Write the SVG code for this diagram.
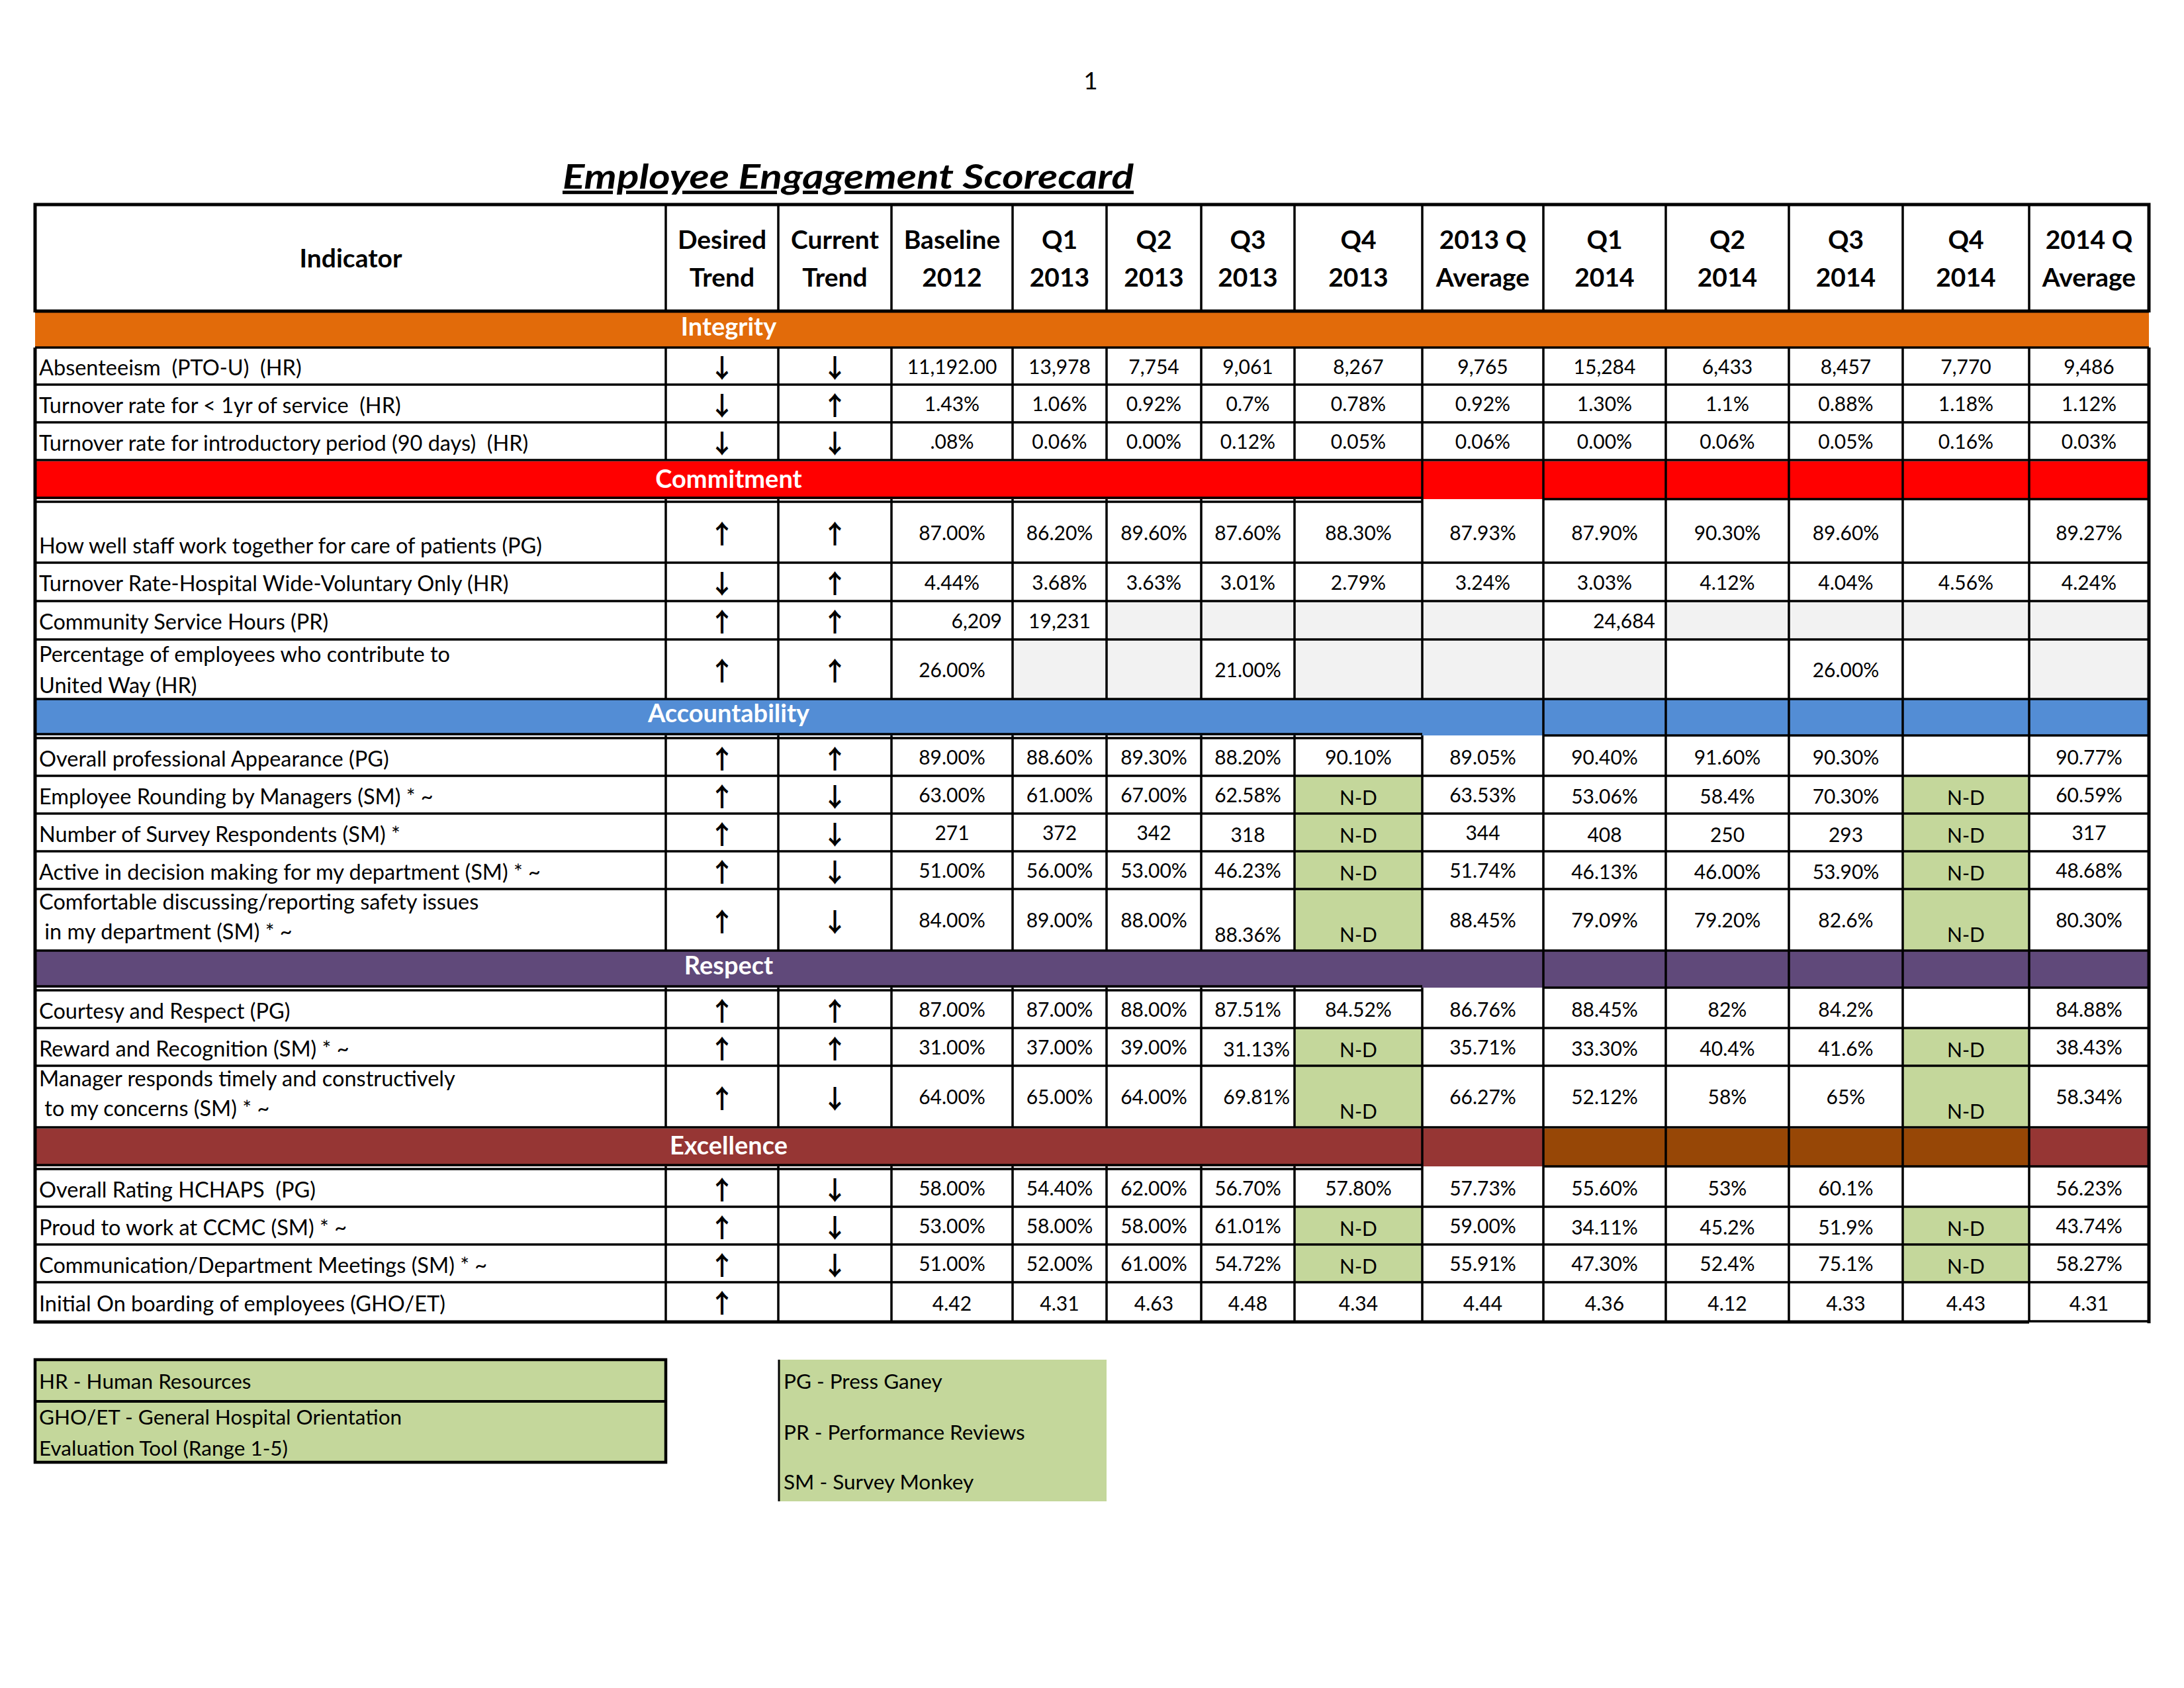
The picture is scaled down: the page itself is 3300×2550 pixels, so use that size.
<svg xmlns="http://www.w3.org/2000/svg" width="3300" height="2550" viewBox="0 0 3300 2550">
<style>
text{font-family:Lato,"Liberation Sans",sans-serif;fill:#000}
.v{font-size:30px;text-anchor:middle}
.r{font-size:30px;text-anchor:end}
.l{font-size:32.5px;white-space:pre}
.lg{font-size:31.5px;white-space:pre}
.h{font-size:39px;font-weight:bold;text-anchor:middle}
.b{font-size:38px;font-weight:bold;text-anchor:middle;fill:#fff}
.a{font-family:"Noto Sans CJK SC","DejaVu Sans",sans-serif;font-weight:bold;font-size:39px;text-anchor:middle}
.g{stroke:#000;stroke-width:3.5;fill:none}
.gt{stroke:#000;stroke-width:5;fill:none}
</style>
<rect width="3300" height="2550" fill="#fff"/>
<text id="page-number" x="1648" y="135" style="font-size:37px;text-anchor:middle">1</text>
<text id="title" x="1281.5" y="285" textLength="863" lengthAdjust="spacingAndGlyphs" style="font-size:52px;font-weight:bold;font-style:italic;text-anchor:middle;text-decoration:underline">Employee Engagement Scorecard</text>

<g id="fills">
<rect x="53" y="472" width="3194" height="53" fill="#E26B0A"/>
<rect x="53" y="697" width="3194" height="57" fill="#FF0000"/>
<rect x="53" y="1057" width="3194" height="54" fill="#538DD5"/>
<rect x="53" y="1437" width="3194" height="55" fill="#60497A"/>
<rect x="53" y="1705" width="3194" height="57" fill="#963634"/>
<rect x="2332" y="1705" width="734" height="57" fill="#974706"/>
<g fill="#F2F2F2">
<rect x="1672" y="908" width="477" height="58"/>
<rect x="2149" y="908" width="183" height="58"/>
<rect x="2517" y="908" width="730" height="58"/>
<rect x="1530" y="966" width="285" height="90"/>
<rect x="1956" y="966" width="561" height="90"/>
<rect x="3066" y="966" width="181" height="90"/>
</g>
<g fill="#C4D79B">
<rect x="1956" y="1172" width="193" height="264"/>
<rect x="2875" y="1172" width="191" height="264"/>
<rect x="1956" y="1553" width="193" height="150"/>
<rect x="2875" y="1553" width="191" height="150"/>
<rect x="1956" y="1823" width="193" height="114"/>
<rect x="2875" y="1823" width="191" height="114"/>
</g>
</g>

<g id="grid">
<path class="g" d="M53 525H3247M53 581H3247M53 638H3247M53 695H3247M53 850H3247M53 908H3247M53 966H3247M53 1056H3247M53 1172H3247M53 1229H3247M53 1286H3247M53 1343H3247M53 1436H3247M53 1553H3247M53 1610H3247M53 1703H3247M53 1823H3247M53 1880H3247M53 1937H3247"/>
<path class="g" d="M53 752H2149M53 758H2149M2332 754H3247M53 1109H2149M53 1115H2149M2332 1111H3247M53 1490H2149M53 1496H2149M2332 1492H3247M53 1760H2149M53 1766H2149M2332 1762H3247"/>
<path class="g" d="M1006 309V470M1006 525V695M1006 754V1056M1006 1111V1436M1006 1492V1703M1006 1762V1996
M1176 309V470M1176 525V695M1176 754V1056M1176 1111V1436M1176 1492V1703M1176 1762V1996
M1347 309V470M1347 525V695M1347 754V1056M1347 1111V1436M1347 1492V1703M1347 1762V1996
M1530 309V470M1530 525V695M1530 754V1056M1530 1111V1436M1530 1492V1703M1530 1762V1996
M1672 309V470M1672 525V695M1672 754V1056M1672 1111V1436M1672 1492V1703M1672 1762V1996
M1815 309V470M1815 525V695M1815 754V1056M1815 1111V1436M1815 1492V1703M1815 1762V1996
M1956 309V470M1956 525V695M1956 754V1056M1956 1111V1436M1956 1492V1703M1956 1762V1996
M2149 309V470M2149 525V1057M2149 1111V1437M2149 1492V1996
M2332 309V470M2332 525V1996M2517 309V470M2517 525V1996M2703 309V470M2703 525V1996M2875 309V470M2875 525V1996M3066 309V470M3066 525V1996
M3066 1996H3247"/>
<path class="gt" d="M50.5 309H3249.5M53 470H3247M53 309V472M53 525V1999M3247 309V472M3247 525V1999M50.5 1997H3066"/>
</g>

<g id="header">
<text class="h" x="530" y="404">Indicator</text>
<text class="h" x="1091" y="376">Desired</text><text class="h" x="1091" y="433">Trend</text>
<text class="h" x="1261.5" y="376">Current</text><text class="h" x="1261.5" y="433">Trend</text>
<text class="h" x="1438.5" y="376">Baseline</text><text class="h" x="1438.5" y="433">2012</text>
<text class="h" x="1601" y="376">Q1</text><text class="h" x="1601" y="433">2013</text>
<text class="h" x="1743.5" y="376">Q2</text><text class="h" x="1743.5" y="433">2013</text>
<text class="h" x="1885.5" y="376">Q3</text><text class="h" x="1885.5" y="433">2013</text>
<text class="h" x="2052.5" y="376">Q4</text><text class="h" x="2052.5" y="433">2013</text>
<text class="h" x="2240.5" y="376">2013 Q</text><text class="h" x="2240.5" y="433">Average</text>
<text class="h" x="2424.5" y="376">Q1</text><text class="h" x="2424.5" y="433">2014</text>
<text class="h" x="2610" y="376">Q2</text><text class="h" x="2610" y="433">2014</text>
<text class="h" x="2789" y="376">Q3</text><text class="h" x="2789" y="433">2014</text>
<text class="h" x="2970.5" y="376">Q4</text><text class="h" x="2970.5" y="433">2014</text>
<text class="h" x="3156.5" y="376">2014 Q</text><text class="h" x="3156.5" y="433">Average</text>
</g>

<g id="bands">
<text class="b" x="1101" y="507">Integrity</text>
<text class="b" x="1101" y="737">Commitment</text>
<text class="b" x="1101" y="1091">Accountability</text>
<text class="b" x="1101" y="1472">Respect</text>
<text class="b" x="1101" y="1744">Excellence</text>
</g>

<g id="row-absenteeism">
<text class="l" x="59" y="567">Absenteeism  (PTO-U)  (HR)</text>
<text class="a" x="1091" y="570">↓</text><text class="a" x="1261.5" y="570">↓</text>
<text class="v" x="1438.5" y="564.5">11,192.00</text><text class="v" x="1601" y="564.5">13,978</text><text class="v" x="1743.5" y="564.5">7,754</text><text class="v" x="1885.5" y="564.5">9,061</text><text class="v" x="2052.5" y="564.5">8,267</text><text class="v" x="2240.5" y="564.5">9,765</text><text class="v" x="2424.5" y="564.5">15,284</text><text class="v" x="2610" y="564.5">6,433</text><text class="v" x="2789" y="564.5">8,457</text><text class="v" x="2970.5" y="564.5">7,770</text><text class="v" x="3156.5" y="564.5">9,486</text>
</g>
<g id="row-turnover-1yr">
<text class="l" x="59" y="624">Turnover rate for &lt; 1yr of service  (HR)</text>
<text class="a" x="1091" y="626.5">↓</text><text class="a" x="1261.5" y="626.5">↑</text>
<text class="v" x="1438.5" y="621">1.43%</text><text class="v" x="1601" y="621">1.06%</text><text class="v" x="1743.5" y="621">0.92%</text><text class="v" x="1885.5" y="621">0.7%</text><text class="v" x="2052.5" y="621">0.78%</text><text class="v" x="2240.5" y="621">0.92%</text><text class="v" x="2424.5" y="621">1.30%</text><text class="v" x="2610" y="621">1.1%</text><text class="v" x="2789" y="621">0.88%</text><text class="v" x="2970.5" y="621">1.18%</text><text class="v" x="3156.5" y="621">1.12%</text>
</g>
<g id="row-turnover-intro">
<text class="l" x="59" y="681">Turnover rate for introductory period (90 days)  (HR)</text>
<text class="a" x="1091" y="683.5">↓</text><text class="a" x="1261.5" y="683.5">↓</text>
<text class="v" x="1438.5" y="678">.08%</text><text class="v" x="1601" y="678">0.06%</text><text class="v" x="1743.5" y="678">0.00%</text><text class="v" x="1885.5" y="678">0.12%</text><text class="v" x="2052.5" y="678">0.05%</text><text class="v" x="2240.5" y="678">0.06%</text><text class="v" x="2424.5" y="678">0.00%</text><text class="v" x="2610" y="678">0.06%</text><text class="v" x="2789" y="678">0.05%</text><text class="v" x="2970.5" y="678">0.16%</text><text class="v" x="3156.5" y="678">0.03%</text>
</g>
<g id="row-how-well">
<text class="l" x="59" y="836">How well staff work together for care of patients (PG)</text>
<text class="a" x="1091" y="821">↑</text><text class="a" x="1261.5" y="821">↑</text>
<text class="v" x="1438.5" y="815.5">87.00%</text><text class="v" x="1601" y="815.5">86.20%</text><text class="v" x="1743.5" y="815.5">89.60%</text><text class="v" x="1885.5" y="815.5">87.60%</text><text class="v" x="2052.5" y="815.5">88.30%</text><text class="v" x="2240.5" y="815.5">87.93%</text><text class="v" x="2424.5" y="815.5">87.90%</text><text class="v" x="2610" y="815.5">90.30%</text><text class="v" x="2789" y="815.5">89.60%</text><text class="v" x="3156.5" y="815.5">89.27%</text>
</g>
<g id="row-turnover-hospital">
<text class="l" x="59" y="893">Turnover Rate-Hospital Wide-Voluntary Only (HR)</text>
<text class="a" x="1091" y="896">↓</text><text class="a" x="1261.5" y="896">↑</text>
<text class="v" x="1438.5" y="890.5">4.44%</text><text class="v" x="1601" y="890.5">3.68%</text><text class="v" x="1743.5" y="890.5">3.63%</text><text class="v" x="1885.5" y="890.5">3.01%</text><text class="v" x="2052.5" y="890.5">2.79%</text><text class="v" x="2240.5" y="890.5">3.24%</text><text class="v" x="2424.5" y="890.5">3.03%</text><text class="v" x="2610" y="890.5">4.12%</text><text class="v" x="2789" y="890.5">4.04%</text><text class="v" x="2970.5" y="890.5">4.56%</text><text class="v" x="3156.5" y="890.5">4.24%</text>
</g>
<g id="row-community">
<text class="l" x="59" y="951">Community Service Hours (PR)</text>
<text class="a" x="1091" y="954">↑</text><text class="a" x="1261.5" y="954">↑</text>
<text class="r" x="1514" y="948.5">6,209</text><text class="v" x="1601" y="948.5">19,231</text><text class="r" x="2501" y="948.5">24,684</text>
</g>
<g id="row-united-way">
<text class="l" x="59" y="1000">Percentage of employees who contribute to</text>
<text class="l" x="59" y="1047">United Way (HR)</text>
<text class="a" x="1091" y="1028">↑</text><text class="a" x="1261.5" y="1028">↑</text>
<text class="v" x="1438.5" y="1022.5">26.00%</text><text class="v" x="1885.5" y="1022.5">21.00%</text><text class="v" x="2789" y="1022.5">26.00%</text>
</g>
<g id="row-appearance">
<text class="l" x="59" y="1158">Overall professional Appearance (PG)</text>
<text class="a" x="1091" y="1160.5">↑</text><text class="a" x="1261.5" y="1160.5">↑</text>
<text class="v" x="1438.5" y="1155">89.00%</text><text class="v" x="1601" y="1155">88.60%</text><text class="v" x="1743.5" y="1155">89.30%</text><text class="v" x="1885.5" y="1155">88.20%</text><text class="v" x="2052.5" y="1155">90.10%</text><text class="v" x="2240.5" y="1155">89.05%</text><text class="v" x="2424.5" y="1155">90.40%</text><text class="v" x="2610" y="1155">91.60%</text><text class="v" x="2789" y="1155">90.30%</text><text class="v" x="3156.5" y="1155">90.77%</text>
</g>
<g id="row-rounding">
<text class="l" x="59" y="1215">Employee Rounding by Managers (SM) * ~</text>
<text class="a" x="1091" y="1217.5">↑</text><text class="a" x="1261.5" y="1217.5">↓</text>
<text class="v" x="1438.5" y="1212">63.00%</text><text class="v" x="1601" y="1212">61.00%</text><text class="v" x="1743.5" y="1212">67.00%</text><text class="v" x="1885.5" y="1212">62.58%</text><text class="v" x="2052.5" y="1216">N-D</text><text class="v" x="2240.5" y="1212">63.53%</text><text class="v" x="2424.5" y="1214">53.06%</text><text class="v" x="2610" y="1214">58.4%</text><text class="v" x="2789" y="1214">70.30%</text><text class="v" x="2970.5" y="1216">N-D</text><text class="v" x="3156.5" y="1212">60.59%</text>
</g>
<g id="row-respondents">
<text class="l" x="59" y="1272">Number of Survey Respondents (SM) *</text>
<text class="a" x="1091" y="1274.5">↑</text><text class="a" x="1261.5" y="1274.5">↓</text>
<text class="v" x="1438.5" y="1269">271</text><text class="v" x="1601" y="1269">372</text><text class="v" x="1743.5" y="1269">342</text><text class="v" x="1885.5" y="1272">318</text><text class="v" x="2052.5" y="1273">N-D</text><text class="v" x="2240.5" y="1269">344</text><text class="v" x="2424.5" y="1272">408</text><text class="v" x="2610" y="1272">250</text><text class="v" x="2789" y="1272">293</text><text class="v" x="2970.5" y="1273">N-D</text><text class="v" x="3156.5" y="1269">317</text>
</g>
<g id="row-decision">
<text class="l" x="59" y="1329">Active in decision making for my department (SM) * ~</text>
<text class="a" x="1091" y="1331.5">↑</text><text class="a" x="1261.5" y="1331.5">↓</text>
<text class="v" x="1438.5" y="1326">51.00%</text><text class="v" x="1601" y="1326">56.00%</text><text class="v" x="1743.5" y="1326">53.00%</text><text class="v" x="1885.5" y="1326">46.23%</text><text class="v" x="2052.5" y="1330">N-D</text><text class="v" x="2240.5" y="1326">51.74%</text><text class="v" x="2424.5" y="1328">46.13%</text><text class="v" x="2610" y="1328">46.00%</text><text class="v" x="2789" y="1328">53.90%</text><text class="v" x="2970.5" y="1330">N-D</text><text class="v" x="3156.5" y="1326">48.68%</text>
</g>
<g id="row-safety">
<text class="l" x="59" y="1374">Comfortable discussing/reporting safety issues</text>
<text class="l" x="59" y="1419"> in my department (SM) * ~</text>
<text class="a" x="1091" y="1406.5">↑</text><text class="a" x="1261.5" y="1406.5">↓</text>
<text class="v" x="1438.5" y="1401">84.00%</text><text class="v" x="1601" y="1401">89.00%</text><text class="v" x="1743.5" y="1401">88.00%</text><text class="v" x="1885.5" y="1423">88.36%</text><text class="v" x="2052.5" y="1423">N-D</text><text class="v" x="2240.5" y="1401">88.45%</text><text class="v" x="2424.5" y="1401">79.09%</text><text class="v" x="2610" y="1401">79.20%</text><text class="v" x="2789" y="1401">82.6%</text><text class="v" x="2970.5" y="1423">N-D</text><text class="v" x="3156.5" y="1401">80.30%</text>
</g>
<g id="row-courtesy">
<text class="l" x="59" y="1539">Courtesy and Respect (PG)</text>
<text class="a" x="1091" y="1541.5">↑</text><text class="a" x="1261.5" y="1541.5">↑</text>
<text class="v" x="1438.5" y="1536">87.00%</text><text class="v" x="1601" y="1536">87.00%</text><text class="v" x="1743.5" y="1536">88.00%</text><text class="v" x="1885.5" y="1536">87.51%</text><text class="v" x="2052.5" y="1536">84.52%</text><text class="v" x="2240.5" y="1536">86.76%</text><text class="v" x="2424.5" y="1536">88.45%</text><text class="v" x="2610" y="1536">82%</text><text class="v" x="2789" y="1536">84.2%</text><text class="v" x="3156.5" y="1536">84.88%</text>
</g>
<g id="row-reward">
<text class="l" x="59" y="1596">Reward and Recognition (SM) * ~</text>
<text class="a" x="1091" y="1598.5">↑</text><text class="a" x="1261.5" y="1598.5">↑</text>
<text class="v" x="1438.5" y="1593">31.00%</text><text class="v" x="1601" y="1593">37.00%</text><text class="v" x="1743.5" y="1593">39.00%</text><text class="r" x="1949" y="1596">31.13%</text><text class="v" x="2052.5" y="1597">N-D</text><text class="v" x="2240.5" y="1593">35.71%</text><text class="v" x="2424.5" y="1595">33.30%</text><text class="v" x="2610" y="1595">40.4%</text><text class="v" x="2789" y="1595">41.6%</text><text class="v" x="2970.5" y="1597">N-D</text><text class="v" x="3156.5" y="1593">38.43%</text>
</g>
<g id="row-manager">
<text class="l" x="59" y="1641">Manager responds timely and constructively</text>
<text class="l" x="59" y="1686"> to my concerns (SM) * ~</text>
<text class="a" x="1091" y="1673.5">↑</text><text class="a" x="1261.5" y="1673.5">↓</text>
<text class="v" x="1438.5" y="1668">64.00%</text><text class="v" x="1601" y="1668">65.00%</text><text class="v" x="1743.5" y="1668">64.00%</text><text class="r" x="1949" y="1668">69.81%</text><text class="v" x="2052.5" y="1690">N-D</text><text class="v" x="2240.5" y="1668">66.27%</text><text class="v" x="2424.5" y="1668">52.12%</text><text class="v" x="2610" y="1668">58%</text><text class="v" x="2789" y="1668">65%</text><text class="v" x="2970.5" y="1690">N-D</text><text class="v" x="3156.5" y="1668">58.34%</text>
</g>
<g id="row-hchaps">
<text class="l" x="59" y="1809">Overall Rating HCHAPS  (PG)</text>
<text class="a" x="1091" y="1811.5">↑</text><text class="a" x="1261.5" y="1811.5">↓</text>
<text class="v" x="1438.5" y="1806">58.00%</text><text class="v" x="1601" y="1806">54.40%</text><text class="v" x="1743.5" y="1806">62.00%</text><text class="v" x="1885.5" y="1806">56.70%</text><text class="v" x="2052.5" y="1806">57.80%</text><text class="v" x="2240.5" y="1806">57.73%</text><text class="v" x="2424.5" y="1806">55.60%</text><text class="v" x="2610" y="1806">53%</text><text class="v" x="2789" y="1806">60.1%</text><text class="v" x="3156.5" y="1806">56.23%</text>
</g>
<g id="row-proud">
<text class="l" x="59" y="1866">Proud to work at CCMC (SM) * ~</text>
<text class="a" x="1091" y="1868.5">↑</text><text class="a" x="1261.5" y="1868.5">↓</text>
<text class="v" x="1438.5" y="1863">53.00%</text><text class="v" x="1601" y="1863">58.00%</text><text class="v" x="1743.5" y="1863">58.00%</text><text class="v" x="1885.5" y="1863">61.01%</text><text class="v" x="2052.5" y="1867">N-D</text><text class="v" x="2240.5" y="1863">59.00%</text><text class="v" x="2424.5" y="1865">34.11%</text><text class="v" x="2610" y="1865">45.2%</text><text class="v" x="2789" y="1865">51.9%</text><text class="v" x="2970.5" y="1867">N-D</text><text class="v" x="3156.5" y="1863">43.74%</text>
</g>
<g id="row-meetings">
<text class="l" x="59" y="1923">Communication/Department Meetings (SM) * ~</text>
<text class="a" x="1091" y="1925.5">↑</text><text class="a" x="1261.5" y="1925.5">↓</text>
<text class="v" x="1438.5" y="1920">51.00%</text><text class="v" x="1601" y="1920">52.00%</text><text class="v" x="1743.5" y="1920">61.00%</text><text class="v" x="1885.5" y="1920">54.72%</text><text class="v" x="2052.5" y="1924">N-D</text><text class="v" x="2240.5" y="1920">55.91%</text><text class="v" x="2424.5" y="1920">47.30%</text><text class="v" x="2610" y="1920">52.4%</text><text class="v" x="2789" y="1920">75.1%</text><text class="v" x="2970.5" y="1924">N-D</text><text class="v" x="3156.5" y="1920">58.27%</text>
</g>
<g id="row-onboarding">
<text class="l" x="59" y="1981">Initial On boarding of employees (GHO/ET)</text>
<text class="a" x="1091" y="1983">↑</text>
<text class="v" x="1438.5" y="1980">4.42</text><text class="v" x="1601" y="1980">4.31</text><text class="v" x="1743.5" y="1980">4.63</text><text class="v" x="1885.5" y="1980">4.48</text><text class="v" x="2052.5" y="1980">4.34</text><text class="v" x="2240.5" y="1980">4.44</text><text class="v" x="2424.5" y="1980">4.36</text><text class="v" x="2610" y="1980">4.12</text><text class="v" x="2789" y="1980">4.33</text><text class="v" x="2970.5" y="1980">4.43</text><text class="v" x="3156.5" y="1980">4.31</text>
</g>

<g id="legend-left">
<rect x="53" y="2054" width="953" height="155" fill="#C4D79B" stroke="#000" stroke-width="4.5"/>
<line x1="53" y1="2117" x2="1006" y2="2117" stroke="#000" stroke-width="4"/>
<text class="lg" x="59" y="2098">HR - Human Resources</text>
<text class="lg" x="59" y="2152">GHO/ET - General Hospital Orientation</text>
<text class="lg" x="59" y="2199">Evaluation Tool (Range 1-5)</text>
</g>
<g id="legend-right">
<rect x="1177" y="2054" width="495" height="214" fill="#C4D79B"/>
<line x1="1177" y1="2054" x2="1177" y2="2268" stroke="#000" stroke-width="3"/>
<text class="lg" x="1184" y="2098">PG - Press Ganey</text>
<text class="lg" x="1184" y="2175">PR - Performance Reviews</text>
<text class="lg" x="1184" y="2250">SM - Survey Monkey</text>
</g>
</svg>
